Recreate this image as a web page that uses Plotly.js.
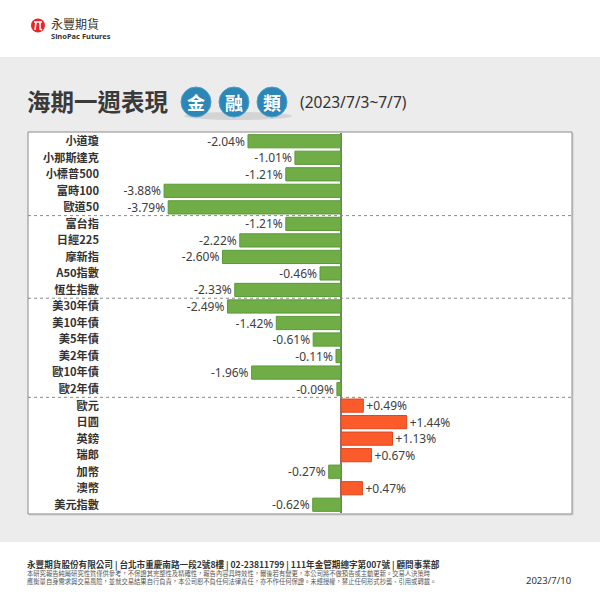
<!DOCTYPE html>
<html>
<head>
<meta charset="utf-8">
<script src="https://cdn.plot.ly/plotly-3.0.1.min.js"></script>
<style>html,body{margin:0;padding:0;background:#fff;}#chart{width:600px;height:600px;}</style>
</head>
<body>
<div id="chart"></div>
<script>
// ---- data ----
const categories = ["小道瓊","小那斯達克","小標普500","富時100","歐道50",
  "富台指","日經225","摩新指","A50指數","恆生指數",
  "美30年債","美10年債","美5年債","美2年債","歐10年債","歐2年債",
  "歐元","日圓","英鎊","瑞郎","加幣","澳幣","美元指數"];
const changes = [-2.04,-1.01,-1.21,-3.88,-3.79,
  -1.21,-2.22,-2.60,-0.46,-2.33,
  -2.49,-1.42,-0.61,-0.11,-1.96,-0.09,
  0.49,1.44,1.13,0.67,-0.27,0.47,-0.62];
const groupLastIndex = [4, 9, 15];
const titleMain = "海期一週表現";
const titleBadges = ["金","融","類"];
const titlePeriod = "(2023/7/3~7/7)";
const brandZh = "永豐期貨";
const brandEn = "SinoPac Futures";
const footerLine1 = "永豐期貨股份有限公司 | 台北市重慶南路一段2號8樓 | 02-23811799 | 111年金管期總字第007號 | 顧問事業部";
const footerLine2 = "本研究報告純屬研究性質僅供參考，不保證其完整性及精確性，報告內容具時效性，爾後若有變更，本公司將不做預告或主動更新。交易人決策時";
const footerLine3 = "應衡量自身需求與交易風險，並就交易結果自行負責，本公司恕不負任何法律責任，亦不作任何保證。未經授權，禁止任何形式抄襲、引用或轉載。";
const reportDate = "2023/7/10";

// ---- layout geometry ----
const L = 100, R = 28, T = 133, B = 87;
const PW = 600 - L - R, PH = 600 - T - B;
const X = px => (px - L) / PW;
const Y = py => (600 - B - py) / PH;

const green = "#70ad47", greenLine = "#5a9a35";
const orange = "#fb5a2b", orangeLine = "#e0481c";

const trace = {
  type: "bar", orientation: "h",
  y: categories, x: changes,
  marker: {
    color: changes.map(v => v >= 0 ? orange : green),
    line: {color: changes.map(v => v >= 0 ? orangeLine : greenLine), width: 1}
  },
  text: changes.map(v => (v > 0 ? "+" : "") + v.toFixed(2) + "%"),
  textposition: "outside",
  constraintext: "none",
  textfont: {family: "Noto Sans, sans-serif", size: 12, color: "#404040"},
  cliponaxis: false,
  hoverinfo: "skip"
};

const shapes = [];
// grey band
shapes.push({type:"rect", xref:"paper", yref:"paper", layer:"below",
  x0:X(0), x1:X(600), y0:Y(542), y1:Y(57), fillcolor:"#ececec", line:{width:0}});
// box shadow + white box
shapes.push({type:"rect", xref:"paper", yref:"paper", layer:"below",
  x0:X(29), x1:X(574), y0:Y(516), y1:Y(133), fillcolor:"#dcdcdc", line:{width:0}});
shapes.push({type:"rect", xref:"paper", yref:"paper", layer:"below",
  x0:X(28), x1:X(572), y0:Y(514), y1:Y(132), fillcolor:"#ffffff", line:{color:"#8a8a8a", width:1}});
// group separators
groupLastIndex.forEach(i => {
  shapes.push({type:"line", xref:"paper", yref:"y", x0:X(28), x1:X(572), y0:i+0.5, y1:i+0.5,
    line:{color:"#8a8a8a", width:1, dash:"dot"}});
});
// badge shadow
shapes.push({type:"circle", xref:"paper", yref:"paper", layer:"below",
  x0:X(184), x1:X(292), y0:Y(120), y1:Y(112), fillcolor:"#d4d4d4", line:{width:0}});
// badges
const badgeCx = [196, 234, 272], badgeCy = 102, badgeR = 15;
badgeCx.forEach(cx => {
  shapes.push({type:"circle", xref:"paper", yref:"paper",
    x0:X(cx-badgeR), x1:X(cx+badgeR), y0:Y(badgeCy+badgeR), y1:Y(badgeCy-badgeR),
    fillcolor:"#2c86b6", line:{color:"#4aa0cc", width:1}});
});
// logo
shapes.push({type:"circle", xref:"paper", yref:"paper",
  x0:X(31), x1:X(45), y0:Y(32.5), y1:Y(18.5), fillcolor:"#e8262a", line:{width:0}});
shapes.push({type:"path", xref:"paper", yref:"paper",
  path:`M ${X(34)} ${Y(22)} L ${X(42)} ${Y(22)} M ${X(36)} ${Y(22)} L ${X(35)} ${Y(30)} M ${X(40)} ${Y(22)} L ${X(40)} ${Y(29)} L ${X(42)} ${Y(30)}`,
  line:{color:"#ffffff", width:1.6}});

const annotations = [];
const ann = (text, px, py, opts) => Object.assign({text, xref:"paper", yref:"paper", x:X(px), y:Y(py),
  showarrow:false, xanchor:"left", yanchor:"middle", borderpad:0}, opts);
annotations.push(ann(brandZh, 50, 23, {font:{family:"Noto Sans CJK TC", size:12, color:"#333"}}));
annotations.push(ann("<b>"+brandEn+"</b>", 50, 36, {font:{family:"Noto Sans, sans-serif", size:7.5, color:"#333"}}));
annotations.push(ann("<b>"+titleMain+"</b>", 26, 101, {font:{family:"Noto Sans CJK TC", size:23.5, color:"#3a3a3a"}}));
titleBadges.forEach((t, i) => annotations.push(ann("<b>"+t+"</b>", badgeCx[i], badgeCy, {xanchor:"center",
  font:{family:"Noto Sans CJK TC", size:18, color:"#ffffff"}})));
annotations.push(ann(titlePeriod, 299, 102, {font:{family:"Noto Sans, sans-serif", size:15.5, color:"#333"}}));
annotations.push(ann("<b>"+footerLine1+"</b>", 26, 564, {font:{family:"Noto Sans CJK TC", size:8.6, color:"#333"}}));
annotations.push(ann(footerLine2, 26, 573, {font:{family:"Noto Sans CJK TC", size:6.3, color:"#555"}}));
annotations.push(ann(footerLine3, 26, 581, {font:{family:"Noto Sans CJK TC", size:6.3, color:"#555"}}));
annotations.push(ann(reportDate, 572, 580, {xanchor:"right", font:{family:"Noto Sans, sans-serif", size:9.5, color:"#333"}}));

const xLeft = -(341 - L) / 45.6, xRight = (600 - R - 341) / 45.6;

const layout = {
  width: 600, height: 600,
  margin: {l:L, r:R, t:T, b:B, pad:0},
  paper_bgcolor: "#ffffff", plot_bgcolor: "rgba(0,0,0,0)",
  showlegend: false, bargap: 0.2,
  xaxis: {range:[xLeft, xRight], showgrid:false, showticklabels:false, ticks:"",
    zeroline:true, zerolinecolor:"#7a7a7a", zerolinewidth:1.5, fixedrange:true},
  yaxis: {type:"category", autorange:"reversed", showgrid:false, ticks:"", zeroline:false,
    tickfont:{family:"Noto Sans CJK TC", size:11.2, color:"#333", weight:"bold"}, fixedrange:true,
    automargin:false},
  shapes, annotations
};

Plotly.newPlot("chart", [trace], layout, {staticPlot:true, displayModeBar:false});
</script>
</body>
</html>
